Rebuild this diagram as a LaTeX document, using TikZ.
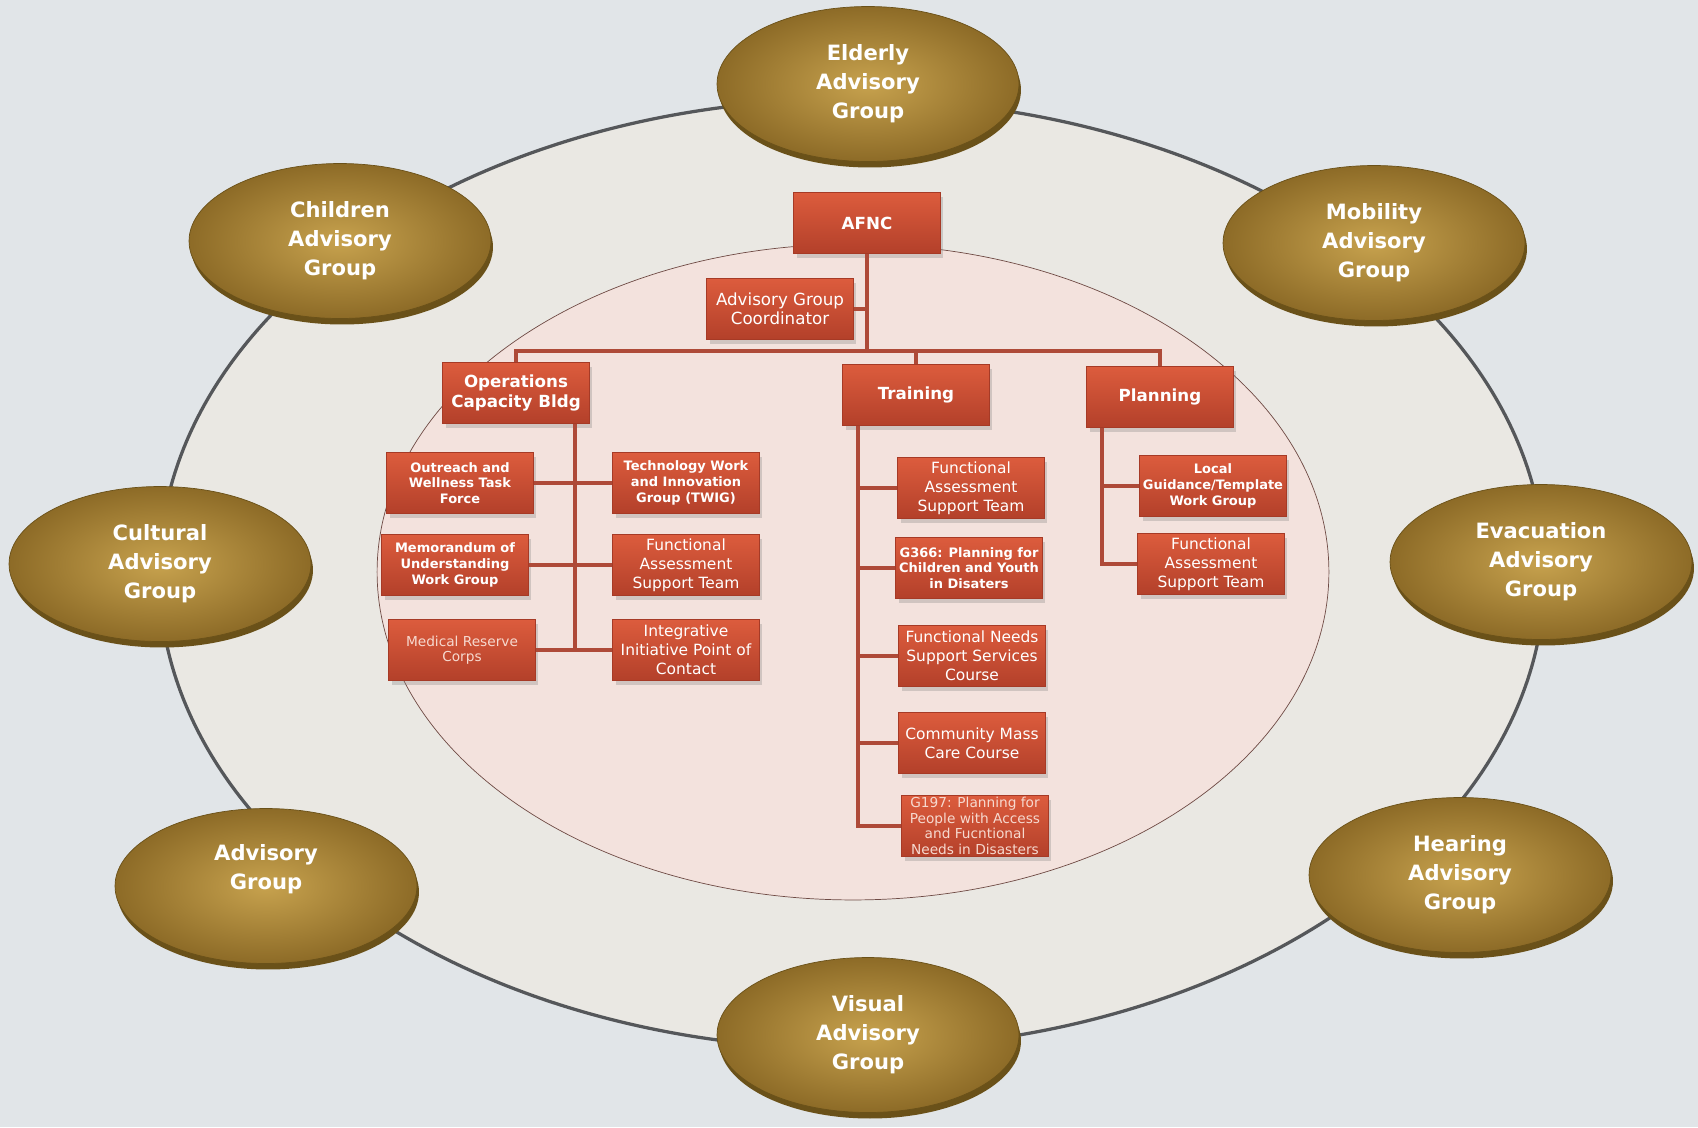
\documentclass[tikz,border=0pt]{standalone}
\usepackage{fontspec}
\setmainfont{DejaVu Sans}
\usepackage{xcolor}
\usepackage{tikz}
\usetikzlibrary{shapes.geometric}
\usetikzlibrary{shadows}

\definecolor{bgblue}{HTML}{E1E5E8}
\definecolor{ringfill}{HTML}{EAE8E3}
\definecolor{ringline}{HTML}{55575A}
\definecolor{pinkfill}{HTML}{F3E2DD}
\definecolor{pinkline}{HTML}{6E4A44}
\definecolor{boxtop}{HTML}{DC5C3D}
\definecolor{boxbot}{HTML}{B3402A}
\definecolor{boxline}{HTML}{A63A26}
\definecolor{linkred}{HTML}{AE4A38}
\definecolor{goldin}{HTML}{C7A24E}
\definecolor{goldout}{HTML}{8D6B27}
\definecolor{goldedge}{HTML}{6A5119}
\definecolor{lighttext}{HTML}{F6D9CF}

\begin{document}
\begin{tikzpicture}[
        x=0.02cm, y=-0.02cm,
        group/.style={ellipse, minimum width=6.04cm, minimum height=3.1cm,
            shading=radial, inner color=goldin, outer color=goldout,
            draw=goldedge, line width=0.4pt,
            drop shadow={fill=goldedge, opacity=1, shadow xshift=0.04cm, shadow yshift=-0.12cm},
            text=white, align=center, font=\fontsize{12}{16.6}\selectfont\bfseries},
        unit/.style={rectangle, minimum width=2.94cm, minimum height=1.22cm, inner sep=1pt,
            top color=boxtop, bottom color=boxbot, draw=boxline, line width=0.3pt,
            drop shadow={opacity=0.3, shadow xshift=0.06cm, shadow yshift=-0.08cm},
            text=white, align=center},
        head/.style={unit, font=\fontsize{9.5}{11.8}\selectfont\bfseries},
        lead/.style={unit, font=\fontsize{9.5}{10.8}\selectfont},
        sub/.style={unit, font=\fontsize{7.4}{9}\selectfont\bfseries},
        subr/.style={unit, font=\fontsize{8.8}{10.8}\selectfont},
        subl/.style={unit, text=lighttext, font=\fontsize{7.8}{8.8}\selectfont},
        link/.style={draw=linkred, line width=0.07cm}
    ]

    % -- Fond et anneaux --
    \useasboundingbox (0,0) rectangle (1698,1127);
    \fill[bgblue] (0,0) rectangle (1698,1127);
    \draw[fill=ringfill, draw=ringline, line width=0.065cm] (852,574) ellipse [x radius=13.86cm, y radius=9.5cm];
    \draw[fill=pinkfill, draw=pinkline, line width=0.4pt] (853,572) ellipse [x radius=9.52cm, y radius=6.56cm];

    % -- Organigramme --
    \node[head] (afnc)  at (867,223) {AFNC};
    \node[lead] (coord) at (780,309) {Advisory Group\\Coordinator};
    \node[head] (ops)   at (516,393) {Operations\\Capacity Bldg};
    \node[head] (train) at (916,395) {Training};
    \node[head] (plan)  at (1160,397) {Planning};

    % Operations :
    \node[sub]  (outreach) at (460,483) {Outreach and\\Wellness Task\\Force};
    \node[sub]  (twig)     at (686,483) {Technology Work\\and Innovation\\Group (TWIG)};
    \node[sub]  (mou)      at (455,565) {Memorandum of\\Understanding\\Work Group};
    \node[subr] (opsfast)  at (686,565) {Functional\\Assessment\\Support Team};
    \node[subl] (mrc)      at (462,650) {Medical Reserve\\Corps};
    \node[subr] (iipc)     at (686,650) {Integrative\\Initiative Point of\\Contact};

    % Training :
    \node[subr] (trfast) at (971,488) {Functional\\Assessment\\Support Team};
    \node[sub]  (g366)   at (969,568) {G366: Planning for\\Children and Youth\\in Disaters};
    \node[subr] (fnss)   at (972,656) {Functional Needs\\Support Services\\Course};
    \node[subr] (cmmc)   at (972,743) {Community Mass\\Care Course};
    \node[subl] (g197)   at (975,826) {G197: Planning for\\People with Access\\and Fucntional\\Needs in Disasters};

    % Planning :
    \node[sub]  (local)  at (1213,486) {Local\\Guidance/Template\\Work Group};
    \node[subr] (plfast) at (1211,564) {Functional\\Assessment\\Support Team};

    % -- Liaisons --
    \coordinate (bus)   at (867,351);
    \coordinate (opsend) at (575,649);
    \coordinate (trend) at (858,827);
    \coordinate (plend) at (1102,564);

    \draw[link] (afnc.south) -- (bus);
    \draw[link] (coord.east) -- (coord.east -| bus);
    \draw[link] (ops.north) |- (bus) -| (plan.north);
    \draw[link] (train.north) -- (train.north |- bus);

    \draw[link] (ops.south -| opsend) -- (opsend);
    \draw[link] (outreach.east) -- (twig.west);
    \draw[link] (mou.east) -- (opsfast.west);
    \draw[link] (mrc.east) -- (iipc.west);

    \draw[link] (train.south -| trend) |- (g197.west);
    \foreach \n in {trfast, g366, fnss, cmmc}
        \draw[link] (\n.west -| trend) -- (\n.west);

    \draw[link] (plan.south -| plend) |- (plfast.west);
    \draw[link] (local.west -| plend) -- (local.west);

    % -- Groupes consultatifs --
    \node[group] (elderly)  at (868,84)   {Elderly\\Advisory\\Group};
    \node[group] (children) at (340,241)  {Children\\Advisory\\Group};
    \node[group] (mobility) at (1374,243) {Mobility\\Advisory\\Group};
    \node[group] (cultural) at (160,564)  {Cultural\\Advisory\\Group};
    \node[group] (evac)     at (1541,562) {Evacuation\\Advisory\\Group};
    \node[group] (advisory) at (266,886)  {Advisory\\Group\\\strut};
    \node[group] (hearing)  at (1460,875) {Hearing\\Advisory\\Group};
    \node[group] (visual)   at (868,1035) {Visual\\Advisory\\Group};

\end{tikzpicture}
\end{document}
